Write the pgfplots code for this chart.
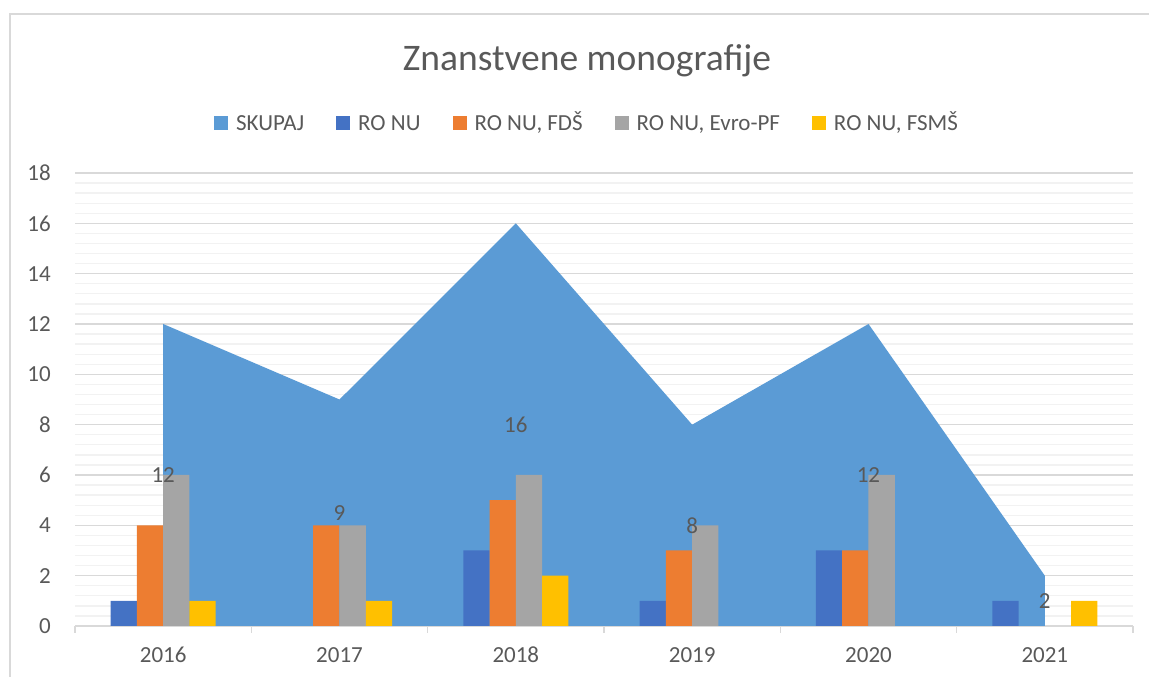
\documentclass[border=0pt]{standalone}
\usepackage{pgfplots}
\pgfplotsset{compat=1.18}
\usepackage{fontspec}
\setmainfont{Carlito}
\definecolor{cSk}{HTML}{5B9BD5}
\definecolor{cRo}{HTML}{4472C4}
\definecolor{cFd}{HTML}{ED7D31}
\definecolor{cEv}{HTML}{A5A5A5}
\definecolor{cFs}{HTML}{FFC000}
\definecolor{txt}{HTML}{595959}
\definecolor{gmaj}{HTML}{D9D9D9}
\definecolor{gmin}{HTML}{F2F2F2}
\begin{document}
\begin{tikzpicture}[x=1pt,y=1pt]
\useasboundingbox (0,0) rectangle (1149,677);
\draw[gmaj, line width=1.5pt] (10,-5) -- (10,663) -- (1160,663);
\node[txt, font=\fontsize{37.5}{42}\selectfont, anchor=base] at (587,606) {Znanstvene monografije};
\begin{axis}[
  at={(75pt,51pt)}, anchor=south west, scale only axis,
  width=1058pt, height=453pt,
  xmin=-0.5, xmax=5.5, ymin=0, ymax=18,
  axis x line*=bottom, axis y line*=left,
  y axis line style={draw=none},
  x axis line style={gmaj, line width=1.3pt},
  xtick={0,1,2,3,4,5},
  xticklabels={2016,2017,2018,2019,2020,2021},
  ytick={0,2,...,18},
  minor y tick num=4,
  ymajorgrids, yminorgrids,
  major grid style={gmaj, line width=1.3pt},
  minor grid style={gmin, line width=1.3pt},
  major tick length=0pt, minor tick length=0pt,
  extra x ticks={-0.5,0.5,1.5,2.5,3.5,4.5,5.5},
  extra x tick labels={},
  extra x tick style={grid=none, major tick length=7pt, tick align=outside,
     tick style={draw=gmaj, line width=1.3pt}},
  tick label style={text=txt, font=\fontsize{23}{27}\selectfont},
  /pgf/number format/assume math mode=true,
  xticklabel style={anchor=north, inner sep=0pt, yshift=-21pt},
  yticklabel style={anchor=east, inner sep=0pt, xshift=-24pt},
  legend columns=-1,
  legend style={at={(0.484,1.110)}, anchor=center, draw=none, fill=none,
    font=\fontsize{23}{27}\selectfont, text=txt,
    nodes={text height=15pt, text depth=0pt},
    /tikz/every even column/.append style={column sep=30pt},
    /tikz/every odd column/.append style={column sep=6pt}},
  legend image code/.code={\fill[#1] (0pt,-7pt) rectangle (14pt,7pt);},
]
\addplot[fill=cSk, draw=none] coordinates {(0,12) (1,9) (2,16) (3,8) (4,12) (5,2)} \closedcycle;
\addlegendentry{SKUPAJ}
\addplot[ybar, bar width=0.149, bar shift=-0.2235, fill=cRo, draw=none]
  coordinates {(0,1) (2,3) (3,1) (4,3) (5,1)};
\addlegendentry{RO NU}
\addplot[ybar, bar width=0.149, bar shift=-0.0745, fill=cFd, draw=none]
  coordinates {(0,4) (1,4) (2,5) (3,3) (4,3)};
\addlegendentry{RO NU, FDŠ}
\addplot[ybar, bar width=0.149, bar shift=0.0745, fill=cEv, draw=none]
  coordinates {(0,6) (1,4) (2,6) (3,4) (4,6)};
\addlegendentry{RO NU, Evro-PF}
\addplot[ybar, bar width=0.149, bar shift=0.2235, fill=cFs, draw=none]
  coordinates {(0,1) (1,1) (2,2) (5,1)};
\addlegendentry{RO NU, FSMŠ}
\addplot[draw=none, mark=none, forget plot, nodes near coords, point meta=explicit symbolic,
  nodes near coords style={anchor=center, text=txt, font=\fontsize{23}{27}\selectfont}]
  coordinates {(0,6)[12] (1,4.5)[9] (2,8)[16] (3,4)[8] (4,6)[12] (5,1)[2]};
\end{axis}
\end{tikzpicture}
\end{document}
